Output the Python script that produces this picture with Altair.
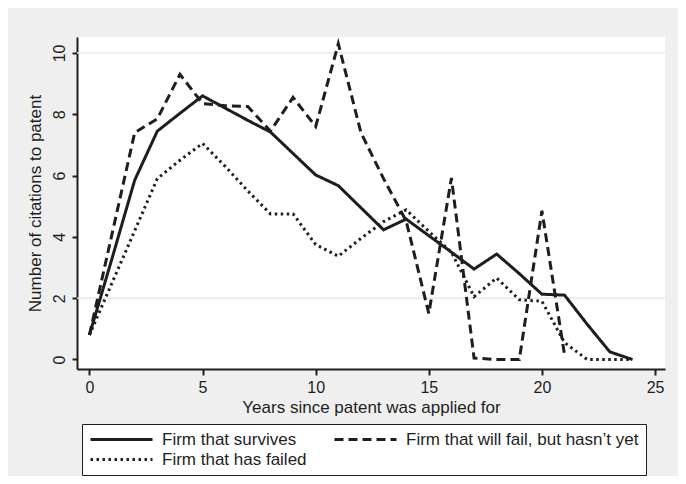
import altair as alt
import pandas as pd

# ---- data ----
years = list(range(25))
survives = [0.8, 3.3, 5.85, 7.45, 8.03, 8.6, 8.2, 7.8, 7.42, 6.72, 6.02, 5.67,
            4.95, 4.23, 4.58, 4.04, 3.5, 2.95, 3.44, 2.8, 2.13, 2.1, 1.15, 0.25, 0.0]
will_fail = [0.8, 4.1, 7.4, 7.85, 9.3, 8.35, 8.28, 8.25, 7.45, 8.55, 7.6, 10.3,
             7.4, 5.9, 4.52, 1.5, 5.92, 0.05, 0.0, 0.0, 4.85, 0.15]
has_failed = [0.8, 2.5, 4.2, 5.9, 6.5, 7.05, 6.3, 5.5, 4.75, 4.75, 3.75, 3.37,
              3.95, 4.5, 4.88, 4.18, 3.5, 2.05, 2.66, 1.95, 1.9, 0.55, 0.0, 0.0, 0.0]

series_names = ["Firm that survives",
                "Firm that will fail, but hasn\u2019t yet",
                "Firm that has failed"]
x_ticks = [0, 5, 10, 15, 20, 25]
y_ticks = [0, 2, 4, 6, 8, 10]
grid_levels = [2, 10]

rows = []
for name, vals in zip(series_names, [survives, will_fail, has_failed]):
    for yr, v in zip(years, vals):
        rows.append({"year": yr, "citations": v, "series": name})
df = pd.DataFrame(rows)

FONT = "Liberation Sans, Arial, Helvetica, sans-serif"
INK = "#1e1e1e"

x_scale = alt.Scale(domain=[-0.55, 25.44], nice=False, zero=False)
y_scale = alt.Scale(domain=[-0.31, 10.52], nice=False, zero=False)

y_axis = alt.Axis(values=y_ticks, title="Number of citations to patent",
                  labelAngle=270, labelAlign="center", labelBaseline="bottom",
                  labelFontSize=16, titleFontSize=17, labelPadding=5,
                  titlePadding=7, tickSize=5)
x_axis = alt.Axis(values=x_ticks, title="Years since patent was applied for",
                  labelFontSize=16, titleFontSize=17, labelPadding=4,
                  titlePadding=4, tickSize=6)

grid = alt.Chart(pd.DataFrame({"level": grid_levels})).mark_rule(
    color="#e8e8e8", strokeWidth=1.5
).encode(
    y=alt.Y("level:Q", scale=y_scale, axis=y_axis)
)

lines = alt.Chart(df).mark_line(color=INK, strokeWidth=3).encode(
    x=alt.X("year:Q", scale=x_scale, axis=x_axis),
    y=alt.Y("citations:Q", scale=y_scale, axis=y_axis),
    strokeDash=alt.StrokeDash(
        "series:N",
        scale=alt.Scale(domain=series_names, range=[[1, 0], [9, 5], [2.5, 3.5]]),
        legend=alt.Legend(title=None, orient="none", legendX=5, legendY=387,
                          direction="horizontal", columns=2,
                          symbolType="stroke", symbolSize=3844,
                          symbolStrokeWidth=3, symbolStrokeColor=INK,
                          clipHeight=17, labelFontSize=17, labelFont=FONT,
                          labelColor=INK, labelOffset=8, columnPadding=26,
                          rowPadding=2, padding=7, strokeColor=INK,
                          fillColor="white", labelLimit=400)
    ),
)

chart = alt.layer(grid, lines).properties(
    width=588, height=332,
    autosize=alt.AutoSizeParams(type="none"),
    padding={"left": 69, "top": 29, "right": 13, "bottom": 107},
    background="#efefef",
).configure_view(
    fill="white", strokeWidth=0
).configure_axis(
    grid=False, domainColor=INK, domainWidth=2, tickColor=INK, tickWidth=2,
    labelColor=INK, titleColor=INK, labelFont=FONT, titleFont=FONT,
    titleFontWeight="normal"
)

chart.save("out.html", embed_options={"renderer": "svg", "actions": False})
